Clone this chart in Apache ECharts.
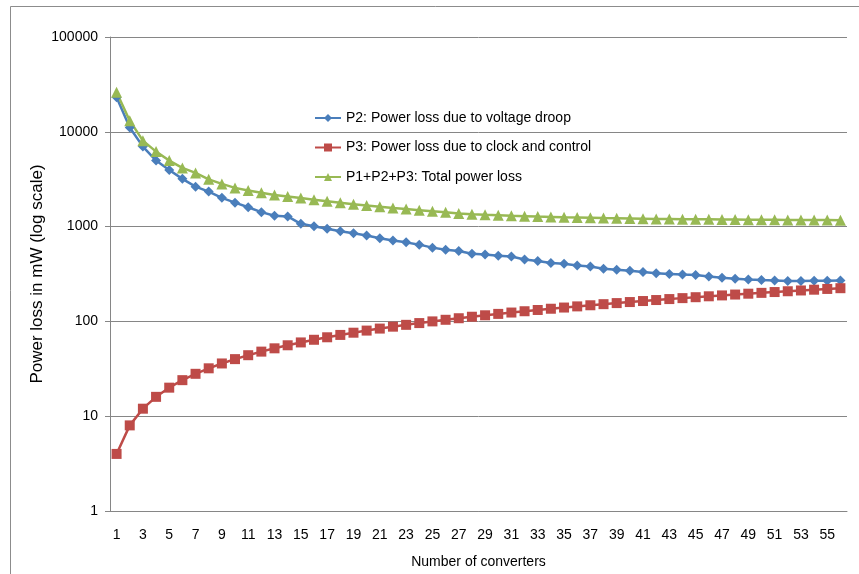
<!DOCTYPE html>
<html>
<head>
<meta charset="utf-8">
<script src="https://cdn.jsdelivr.net/npm/echarts@6/dist/echarts.min.js"></script>
<style>
  html, body { margin: 0; padding: 0; background: #fff; }
  #chart { width: 859px; height: 574px; }
</style>
</head>
<body>
<div id="chart"></div>
<script>
// Number of converters
const converters = [];
for (let i = 1; i <= 56; i++) converters.push(String(i));

// P2: power loss due to voltage droop (mW)
const p2Droop = [
  23100, 11100, 6980, 4970, 3960, 3190, 2640, 2340, 2010, 1790,
  1600, 1420, 1300, 1280, 1070, 1010, 950, 895, 850, 805,
  755, 712, 682, 645, 600, 570, 552, 518, 507, 494,
  483, 450, 433, 412, 405, 388, 379, 360, 350, 343,
  332, 322, 317, 312, 308, 297, 288, 282, 277, 273,
  270, 267, 266, 268, 269, 270
];

// P3: power loss due to clock and control (mW)
const p3Clock = [
  4, 8, 12, 16, 20, 24, 28, 32, 36, 40,
  44, 48, 52, 56, 60, 64, 68, 72, 76, 80,
  84, 88, 92, 96, 100, 104, 108, 112, 116, 120,
  124, 128, 132, 136, 140, 144, 148, 152, 156, 160,
  164, 168, 172, 176, 180, 184, 188, 192, 196, 200,
  204, 208, 212, 216, 220, 224
];

// P1+P2+P3: total power loss (mW)
const totalLoss = [
  26100, 13100, 8070, 6180, 4970, 4160, 3680, 3150, 2820, 2560,
  2400, 2270, 2150, 2080, 2000, 1920, 1850, 1780, 1720, 1670,
  1620, 1570, 1530, 1490, 1450, 1415, 1375, 1350, 1332, 1316,
  1300, 1288, 1276, 1265, 1255, 1246, 1238, 1230, 1224, 1218,
  1212, 1206, 1202, 1198, 1195, 1192, 1189, 1186, 1183, 1181,
  1179, 1177, 1175, 1173, 1172, 1170
];

// Y axis tick labels (log scale, decades)
const yTicks = [1, 10, 100, 1000, 10000, 100000];

const seriesNames = [
  'P2: Power loss due to voltage droop',
  'P3: Power loss due to clock and control',
  'P1+P2+P3: Total power loss'
];

const FONT = '"Liberation Sans", "DejaVu Sans", sans-serif';

const chart = echarts.init(document.getElementById('chart'), null, { renderer: 'canvas' });

function lineSeries(name, data, color, symbol, size) {
  return {
    name: name,
    type: 'line',
    data: data,
    symbol: symbol,
    symbolSize: size,
    showSymbol: true,
    showAllSymbol: true,
    lineStyle: { color: color, width: 2.5 },
    itemStyle: { color: color },
    emphasis: { disabled: true },
    animation: false
  };
}

chart.setOption({
  backgroundColor: '#ffffff',
  animation: false,
  graphic: [{
    type: 'rect',
    shape: { x: 10.5, y: 6.5, width: 900, height: 700 },
    style: { fill: 'none', stroke: '#8c8c8c', lineWidth: 1 },
    silent: true,
    z: -1
  }],
  grid: { left: 110, right: 12, top: 37, bottom: 63 },
  legend: {
    orient: 'vertical',
    left: 309,
    top: 106,
    itemWidth: 26,
    itemHeight: 10,
    itemGap: 15.5,
    textStyle: { fontFamily: FONT, fontSize: 14, color: '#000' },
    data: seriesNames
  },
  xAxis: {
    type: 'category',
    data: converters,
    boundaryGap: true,
    name: 'Number of converters',
    nameLocation: 'middle',
    nameGap: 44,
    nameTextStyle: { fontFamily: FONT, fontSize: 14, color: '#000' },
    axisLine: { lineStyle: { color: '#868686', width: 1 } },
    axisTick: { show: false },
    axisLabel: { interval: 1, fontFamily: FONT, fontSize: 14, color: '#000', margin: 17 },
    splitLine: { show: false }
  },
  yAxis: {
    type: 'log',
    logBase: 10,
    min: yTicks[0],
    max: yTicks[yTicks.length - 1],
    name: 'Power loss in mW (log scale)',
    nameLocation: 'middle',
    nameMoveOverlap: false,
    nameGap: 64,
    nameTextStyle: { fontFamily: FONT, fontSize: 17, color: '#000' },
    axisLine: { show: true, lineStyle: { color: '#868686', width: 1 } },
    axisTick: { show: true, length: 5, lineStyle: { color: '#868686' } },
    axisLabel: {
      fontFamily: FONT, fontSize: 14, color: '#000', margin: 12,
      formatter: function (v) { return String(Math.round(v)); }
    },
    splitLine: { show: true, lineStyle: { color: '#868686', width: 1 } },
    minorTick: { show: false },
    minorSplitLine: { show: false }
  },
  series: [
    lineSeries(seriesNames[0], p2Droop, '#4a7ebb', 'diamond', 10),
    lineSeries(seriesNames[1], p3Clock, '#be4b48', 'rect', 10),
    lineSeries(seriesNames[2], totalLoss, '#98b954', 'triangle', 11)
  ]
});
</script>
</body>
</html>
